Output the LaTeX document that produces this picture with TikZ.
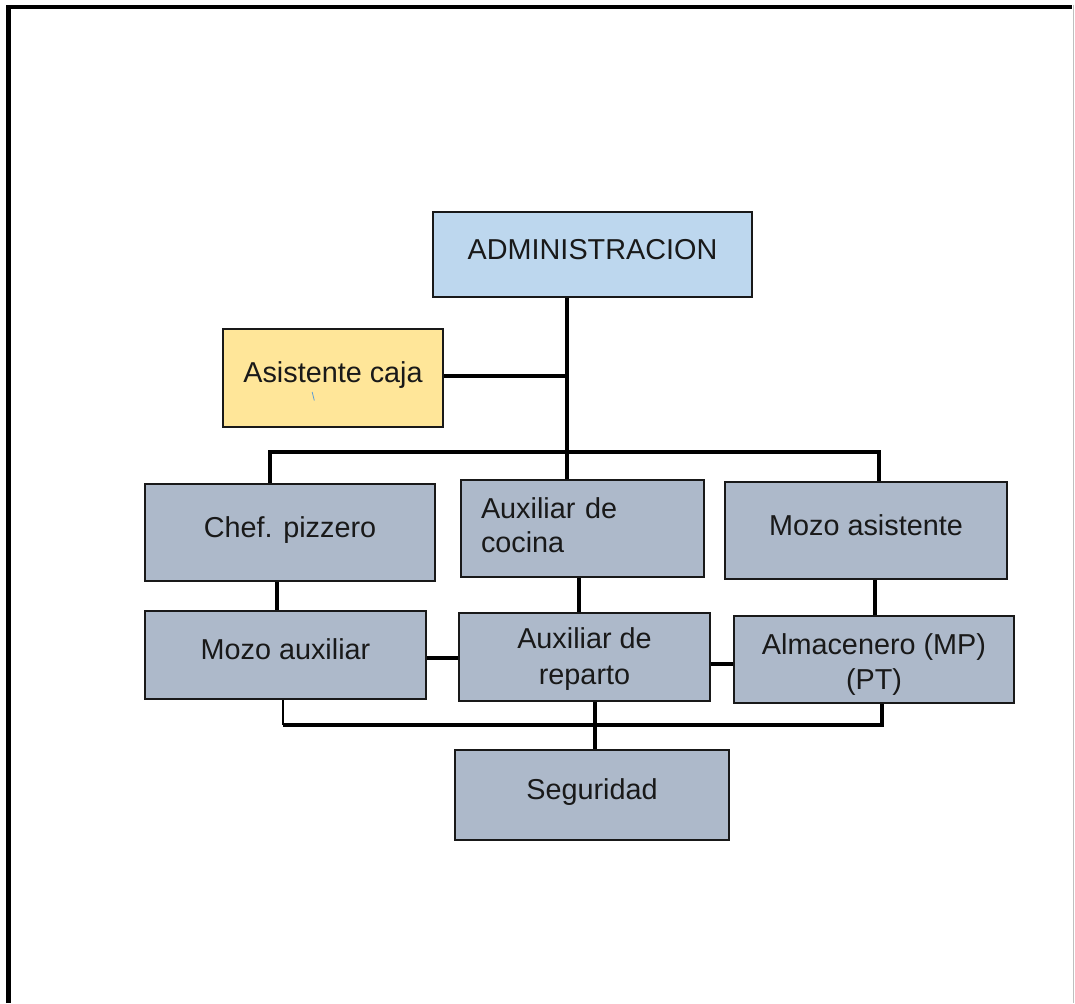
\documentclass[tikz,border=0pt]{standalone}
\usepackage{fontspec}
\setmainfont{Liberation Sans}
\definecolor{boxgray}{HTML}{ADB9CA}
\definecolor{boxblue}{HTML}{BDD7EE}
\definecolor{boxyel}{HTML}{FFE699}
\definecolor{tickblue}{HTML}{5B9BD5}
\begin{document}
\begin{tikzpicture}[x=1pt,y=-1pt,
  box/.style={draw=black!90, line width=2pt, fill=boxgray, inner sep=0pt,
    font=\fontsize{28.8}{35}\selectfont, text=black!90},
  one/.style={text height=21pt, text depth=12pt},
  con/.style={line width=4pt},
  thincon/.style={line width=1.3pt}
]
\useasboundingbox (0,0) rectangle (1075,1003);
% frame
\draw[line width=4.5pt] (8.5,1003) -- (8.5,7) -- (1072,7);
\draw[black!25, line width=1.2pt] (1073.8,5) -- (1073.8,1003);

% boxes
\node[box, fill=boxblue, one, minimum width=319pt, minimum height=85pt] (adm) at (592.5,254.5) {ADMINISTRACION};
\node[box, fill=boxyel, one, minimum width=220pt, minimum height=98pt] (caja) at (333,378) {Asistente caja};
\node[box, one, minimum width=290pt, minimum height=97pt] (chef) at (290,532.5) {Chef. pizzero};
\node[box, minimum width=243pt, minimum height=97pt, text width=203pt, inner xsep=20pt, align=left,
  font=\fontsize{28.8}{34}\selectfont] (coc) at (582.5,528.5) {Auxiliar de\\cocina\rule[-6pt]{0pt}{0pt}};
\node[box, one, minimum width=282pt, minimum height=97pt] (masi) at (866,530.5) {Mozo asistente};
\node[box, one, minimum width=281pt, minimum height=88pt] (maux) at (285.5,655) {Mozo auxiliar};
\node[box, align=center, minimum width=251pt, minimum height=88pt,
  font=\fontsize{28.8}{36}\selectfont] (rep) at (584.5,657) {\rule{0pt}{25.5pt}Auxiliar de\\reparto};
\node[box, align=center, minimum width=280pt, minimum height=87pt] (alm) at (874,659.5) {\rule{0pt}{31pt}Almacenero (MP)\\(PT)};
\node[box, one, minimum width=274pt, minimum height=90pt] (seg) at (592,795) {Seguridad};

% small mark inside Asistente caja
\draw[tickblue, line width=0.8pt] (312.2,392) -- (314.3,400.5);

% junction coordinates
\coordinate (jA) at (567,376);
\coordinate (jB) at (567,452);
\coordinate (jL) at (270,452);
\coordinate (jR) at (879,452);
\coordinate (jC) at (277,596);
\coordinate (jK) at (579,596);
\coordinate (jS) at (875,598);
\coordinate (jM) at (443,657.5);
\coordinate (jN) at (722,663.5);
\coordinate (jT) at (283,725);
\coordinate (jU) at (882,725);
\coordinate (jV) at (595,725);

% connectors
\draw[con] (adm.south -| jA) -- (jB);
\draw[con] (caja.east |- jA) -- (jA);
\draw[con] (chef.north -| jL) -- (jL) -- (jR) -- (masi.north -| jR);
\draw[con] (jB) -- (coc.north -| jB);
\draw[con] (chef.south -| jC) -- (maux.north -| jC);
\draw[con] (coc.south -| jK) -- (rep.north -| jK);
\draw[con] (masi.south -| jS) -- (alm.north -| jS);
\draw[con] (maux.east |- jM) -- (rep.west |- jM);
\draw[con] (rep.east |- jN) -- (alm.west |- jN);
\draw[thincon] (maux.south -| jT) -- (jT);
\draw[con] (jT) -- (jU) -- (alm.south -| jU);
\draw[con] (rep.south -| jV) -- (seg.north -| jV);
\end{tikzpicture}
\end{document}
